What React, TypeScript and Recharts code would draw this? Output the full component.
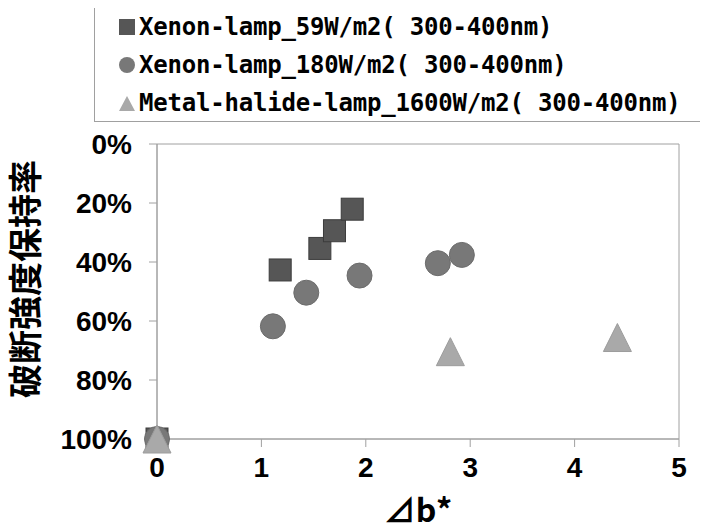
import { ScatterChart, Scatter, XAxis, YAxis, ReferenceArea } from "recharts";

// ⊿b* values and strength retention (fraction, 0 = top)
const xenon59X = [0, 1.18, 1.56, 1.7, 1.87];
const xenon59Y = [1.0, 0.427, 0.354, 0.294, 0.221];
const xenon180X = [0, 1.11, 1.43, 1.94, 2.69, 2.92];
const xenon180Y = [1.0, 0.618, 0.504, 0.446, 0.404, 0.376];
const metalX = [0, 2.81, 4.41];
const metalY = [1.0, 0.704, 0.656];

const xTicks = [0, 1, 2, 3, 4, 5];
const yTicks = [0, 0.2, 0.4, 0.6, 0.8, 1];

const SERIES_NAMES = [
  "Xenon-lamp_59W/m2( 300-400nm)",
  "Xenon-lamp_180W/m2( 300-400nm)",
  "Metal-halide-lamp_1600W/m2( 300-400nm)",
];

const toPoints = (xs: number[], ys: number[]) => xs.map((x, i) => ({ x, y: ys[i] }));

const SQUARE = "#565656";
const CIRCLE = "#787878";
const TRI = "#a9a9a9";
const AXIS = "#a0a0a0";

const SquareDot = (p: any) => (
  <rect x={p.cx - 11} y={p.cy - 11} width={22} height={22} fill={SQUARE} stroke="#3c3c3c" strokeWidth={1} />
);
const CircleDot = (p: any) => <circle cx={p.cx} cy={p.cy} r={12.5} fill={CIRCLE} stroke="#6c6c6c" strokeWidth={1} />;
const TriDot = (p: any) => (
  <polygon
    points={`${p.cx},${p.cy - 14} ${p.cx + 14},${p.cy + 14} ${p.cx - 14},${p.cy + 14}`}
    fill={TRI}
    stroke="#9c9c9c"
    strokeWidth={1}
  />
);

const tickFont = { fill: "#000", fontSize: 28, fontWeight: "bold", fontFamily: "Liberation Sans, Arial, sans-serif" };

const LegendIcon = ({ i }: { i: number }) => (
  <svg width={18} height={18} style={{ marginRight: 3 }}>
    {i === 0 && <rect x={1} y={1} width={16} height={16} fill={SQUARE} />}
    {i === 1 && <circle cx={9} cy={9} r={8} fill={CIRCLE} />}
    {i === 2 && <polygon points="9,2 17,17 1,17" fill={TRI} />}
  </svg>
);

export default function App() {
  return (
    <div style={{ position: "relative", width: 708, height: 532, margin: -8, background: "#fff" }}>
      <ScatterChart width={708} height={532} margin={{ top: 144, right: 29, bottom: 33, left: 0 }}>
        <XAxis
          type="number"
          dataKey="x"
          domain={[0, 5]}
          ticks={xTicks}
          height={60}
          tickSize={8}
          tickMargin={10}
          stroke={AXIS}
          tick={tickFont}
        />
        <YAxis
          type="number"
          dataKey="y"
          domain={[0, 1]}
          reversed
          ticks={yTicks}
          width={157}
          tickSize={8}
          tickMargin={17}
          stroke={AXIS}
          tick={tickFont}
          tickFormatter={(v: number) => `${Math.round(v * 100)}%`}
        />
        <ReferenceArea x1={0} x2={5} y1={0} y2={1} fill="none" stroke={AXIS} strokeWidth={1} />
        <Scatter data={toPoints(xenon59X, xenon59Y)} shape={SquareDot} isAnimationActive={false} />
        <Scatter data={toPoints(xenon180X, xenon180Y)} shape={CircleDot} isAnimationActive={false} />
        <Scatter data={toPoints(metalX, metalY)} shape={TriDot} isAnimationActive={false} />
      </ScatterChart>

      {/* legend box */}
      <div
        style={{
          position: "absolute",
          left: 94,
          top: 5,
          width: 612,
          height: 117,
          border: `1px solid ${AXIS}`,
          boxSizing: "border-box",
          paddingLeft: 23,
          paddingTop: 2,
          fontFamily: "DejaVu Sans Mono, monospace",
          fontWeight: "bold",
          fontSize: 24,
          letterSpacing: -0.2,
          color: "#000",
        }}
      >
        {SERIES_NAMES.map((name, i) => (
          <div key={name} style={{ display: "flex", alignItems: "center", height: 38, whiteSpace: "pre" }}>
            <LegendIcon i={i} />
            <span>{name}</span>
          </div>
        ))}
      </div>

      {/* y-axis title */}
      <div
        style={{
          position: "absolute",
          left: 24,
          top: 279,
          transform: "translate(-50%, -50%) rotate(-90deg)",
          fontFamily: "Noto Sans CJK JP",
          fontWeight: "bold",
          fontSize: 34,
          whiteSpace: "nowrap",
          lineHeight: 1,
        }}
      >
        破断強度保持率
      </div>

      {/* x-axis title */}
      <div
        style={{
          position: "absolute",
          left: 418,
          top: 508,
          transform: "translate(-50%, -50%)",
          fontFamily: "Noto Sans CJK JP",
          fontWeight: "bold",
          fontSize: 32,
          whiteSpace: "nowrap",
          lineHeight: 1,
        }}
      >
        ⊿b*
      </div>
    </div>
  );
}
